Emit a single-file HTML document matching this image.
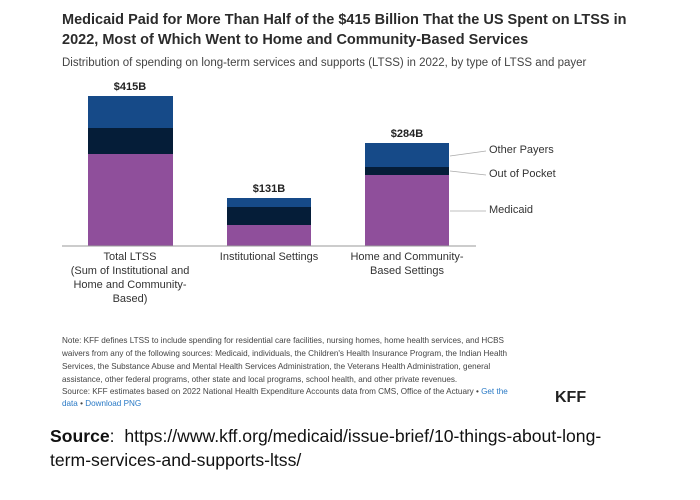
<!DOCTYPE html>
<html><head><style>
body{margin:0;width:700px;height:500px;background:#fff;position:relative;font-family:"Liberation Sans",sans-serif;overflow:hidden}
div,span{position:absolute;white-space:nowrap}
.t{left:62px;font-size:14.5px;font-weight:bold;color:#2b2b2b}
.n{left:62px;font-size:8.15px;color:#444}
.c{font-size:11px;color:#333;text-align:center}
.lg{left:489px;font-size:11px;color:#333}
</style></head><body>
<div class="t" style="top:12px">Medicaid Paid for More Than Half of the $415 Billion That the US Spent on LTSS in</div>
<div class="t" style="top:32px">2022, Most of Which Went to Home and Community-Based Services</div>
<div style="left:62px;top:57px;font-size:11.5px;color:#444">Distribution of spending on long-term services and supports (LTSS) in 2022, by type of LTSS and payer</div>
<svg width="700" height="320" style="position:absolute;left:0;top:0">
<rect x="88" y="96" width="85" height="32" fill="#164a88"/>
<rect x="88" y="128" width="85" height="26" fill="#051d38"/>
<rect x="88" y="154" width="85" height="92" fill="#8f4f9b"/>
<rect x="227" y="198" width="84" height="9" fill="#164a88"/>
<rect x="227" y="207" width="84" height="18" fill="#051d38"/>
<rect x="227" y="225" width="84" height="21" fill="#8f4f9b"/>
<rect x="365" y="143" width="84" height="24" fill="#164a88"/>
<rect x="365" y="167" width="84" height="8" fill="#051d38"/>
<rect x="365" y="175" width="84" height="71" fill="#8f4f9b"/>
<line x1="62" y1="246" x2="476" y2="246" stroke="#999" stroke-width="1"/>
<g stroke="#aaa" stroke-width="0.8">
<line x1="450" y1="156" x2="486" y2="151"/>
<line x1="450" y1="171" x2="486" y2="175"/>
<line x1="450" y1="211" x2="486" y2="211"/>
</g>
<g font-family="Liberation Sans" font-size="11" font-weight="bold" fill="#222" text-anchor="middle">
<text x="130" y="90">$415B</text><text x="269" y="192">$131B</text><text x="407" y="137">$284B</text>
</g>
</svg>
<div class="lg" style="top:144px">Other Payers</div>
<div class="lg" style="top:168px">Out of Pocket</div>
<div class="lg" style="top:204px">Medicaid</div>
<div class="c" style="left:60px;width:140px;top:250px;line-height:14px">Total LTSS<br>(Sum of Institutional and<br>Home and Community-<br>Based)</div>
<div class="c" style="left:199px;width:140px;top:250px;line-height:14px">Institutional Settings</div>
<div class="c" style="left:337px;width:140px;top:250px;line-height:14px">Home and Community-<br>Based Settings</div>
<div class="n" style="top:336px">Note: KFF defines LTSS to include spending for residential care facilities, nursing homes, home health services, and HCBS</div>
<div class="n" style="top:349px">waivers from any of the following sources: Medicaid, individuals, the Children's Health Insurance Program, the Indian Health</div>
<div class="n" style="top:362px">Services, the Substance Abuse and Mental Health Services Administration, the Veterans Health Administration, general</div>
<div class="n" style="top:375px">assistance, other federal programs, other state and local programs, school health, and other private revenues.</div>
<div class="n" style="top:387px">Source: KFF estimates based on 2022 National Health Expenditure Accounts data from CMS, Office of the Actuary • <span style="position:static;color:#2a7ac6">Get the</span></div>
<div class="n" style="top:399px;color:#2a7ac6">data <span style="position:static;color:#444">•</span> Download PNG</div>
<div style="left:555px;top:389px;font-size:16px;font-weight:bold;color:#222">KFF</div>
<div style="left:50px;top:426px;font-size:17.6px;color:#111"><b>Source</b>:&nbsp; https://www.kff.org/medicaid/issue-brief/10-things-about-long-</div>
<div style="left:50px;top:450px;font-size:17.6px;color:#111">term-services-and-supports-ltss/</div>
</body></html>
